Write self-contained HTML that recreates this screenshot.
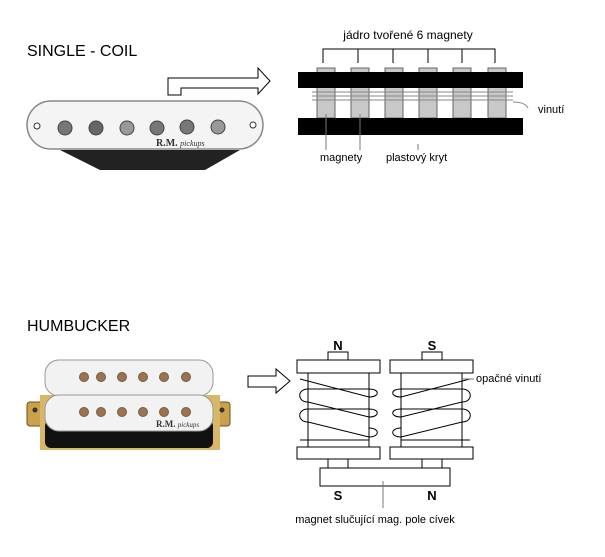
<!DOCTYPE html>
<html><head><style>
body{margin:0;background:#fff;}
svg{display:block;font-family:"Liberation Sans",Arial,sans-serif;}
</style></head><body>
<svg width="605" height="557" viewBox="0 0 605 557" xmlns="http://www.w3.org/2000/svg">
<rect width="605" height="557" fill="#fff"/>
<text x="27" y="56" font-size="16" fill="#000">SINGLE - COIL</text>
<text x="27" y="331" font-size="16" fill="#000">HUMBUCKER</text>

<!-- single coil pickup photo -->
<path d="M60,150 L240,150 L205,170 L100,170 Z" fill="#222"/>
<rect x="27" y="101" width="236" height="48" rx="24" fill="#f4f4f4" stroke="#888" stroke-width="1.5"/>
<circle cx="37" cy="126" r="3" fill="#fff" stroke="#333"/>
<circle cx="253" cy="125" r="3" fill="#fff" stroke="#333"/>
<g stroke="#444" stroke-width="1">
<circle cx="65" cy="128" r="7" fill="#777"/>
<circle cx="96" cy="128" r="7" fill="#666"/>
<circle cx="127" cy="128" r="7" fill="#999"/>
<circle cx="157" cy="128" r="7" fill="#777"/>
<circle cx="187" cy="127" r="7" fill="#777"/>
<circle cx="218" cy="127" r="7" fill="#999"/>
</g>
<text x="156" y="146" font-family="Liberation Serif,serif" font-size="10" font-weight="bold" fill="#333">R.M. <tspan font-style="italic" font-weight="normal" font-size="8">pickups</tspan></text>

<!-- single arrow -->
<path d="M168,95 L168,78 L258,78 L258,68 L270,81 L258,94 L258,88 L181,88 L181,95 Z" fill="#fff" stroke="#000" stroke-width="1"/>

<!-- single diagram -->
<text x="408" y="39" font-size="12" text-anchor="middle">jádro tvořené 6 magnety</text>
<path d="M323,63 L323,49 L495,49 L495,63 M358,49 L358,63 M393,49 L393,63 M428,49 L428,63 M462,49 L462,63" fill="none" stroke="#000"/>
<g fill="#c8c8c8" stroke="#666">
<rect x="317" y="68" width="18" height="50"/>
<rect x="351" y="68" width="18" height="50"/>
<rect x="385" y="68" width="18" height="50"/>
<rect x="419" y="68" width="18" height="50"/>
<rect x="453" y="68" width="18" height="50"/>
<rect x="488" y="68" width="18" height="50"/>
</g>
<rect x="298" y="72" width="225" height="16" fill="#000"/>
<rect x="298" y="118" width="225" height="17" fill="#000"/>
<g stroke="#888"><line x1="312" y1="92" x2="513" y2="92"/><line x1="312" y1="96" x2="513" y2="96"/><line x1="312" y1="100" x2="513" y2="100"/></g>
<path d="M513,102 Q525,102 528,108" fill="none" stroke="#888"/>
<text x="538" y="113" font-size="11">vinutí</text>
<g stroke="#777"><line x1="326" y1="114" x2="326" y2="150"/><line x1="360" y1="114" x2="360" y2="150"/><line x1="418" y1="144" x2="418" y2="150"/></g>
<text x="320" y="161" font-size="11">magnety</text>
<text x="386" y="161" font-size="11">plastový kryt</text>

<!-- humbucker photo -->
<rect x="27" y="402" width="203" height="24" rx="3" fill="#c9a24a" stroke="#6a5020"/>
<rect x="40" y="395" width="180" height="55" fill="#d8b868"/>
<rect x="45" y="420" width="168" height="28" rx="6" fill="#111"/>
<rect x="45" y="360" width="168" height="36" rx="14" fill="#f2f2f2" stroke="#999"/>
<rect x="45" y="395" width="168" height="36" rx="14" fill="#f2f2f2" stroke="#999"/>
<circle cx="35" cy="410" r="2.5" fill="#333"/><circle cx="222" cy="410" r="2.5" fill="#333"/>
<g fill="#a07050" stroke="#664">
<circle cx="84" cy="377" r="4.5"/><circle cx="101" cy="377" r="4.5"/><circle cx="122" cy="377" r="4.5"/><circle cx="143" cy="377" r="4.5"/><circle cx="164" cy="377" r="4.5"/><circle cx="186" cy="377" r="4.5"/>
<circle cx="84" cy="412" r="4.5"/><circle cx="101" cy="412" r="4.5"/><circle cx="122" cy="412" r="4.5"/><circle cx="143" cy="412" r="4.5"/><circle cx="164" cy="412" r="4.5"/><circle cx="186" cy="412" r="4.5"/>
</g>
<text x="156" y="427" font-family="Liberation Serif,serif" font-size="9" font-weight="bold" fill="#333">R.M. <tspan font-style="italic" font-weight="normal" font-size="7">pickups</tspan></text>

<!-- humbucker arrow -->
<path d="M248,376 L276,376 L276,369 L290,381 L276,393 L276,387 L248,387 Z" fill="#fff" stroke="#000"/>

<!-- humbucker diagram -->
<g fill="#fff" stroke="#000" stroke-width="1">
<rect x="328" y="352" width="20" height="8"/>
<rect x="422" y="352" width="20" height="8"/>
<rect x="297" y="360" width="83" height="13"/>
<rect x="390" y="360" width="83" height="13"/>
<rect x="297" y="447" width="83" height="12"/>
<rect x="390" y="447" width="83" height="12"/>
<rect x="328" y="459" width="20" height="9"/>
<rect x="422" y="459" width="20" height="9"/>
<rect x="320" y="468" width="130" height="18"/>
</g>
<g stroke="#000" fill="none">
<line x1="308" y1="373" x2="308" y2="447"/><line x1="369" y1="373" x2="369" y2="447"/>
<line x1="401" y1="373" x2="401" y2="447"/><line x1="462" y1="373" x2="462" y2="447"/>
<!-- left coil -->
<path d="M300,379 L369,397 C380,397 380,389 369,389"/>
<path d="M369,389 L308,389 C297,389 297,402 308,402 L369,417 C380,417 380,409 369,409 L308,409 C297,409 297,422 308,422 L369,437 C380,437 380,428 369,428 M300,440 L369,440"/>
<!-- right coil -->
<path d="M470,379 L401,397 C390,397 390,389 401,389 L462,389 C473,389 473,402 462,402 L401,417 C390,417 390,409 401,409 L462,409 C473,409 473,422 462,422 L401,437 C390,437 390,428 401,428 M470,440 L401,440"/>
</g>
<text x="338" y="350" font-size="13" font-weight="bold" text-anchor="middle">N</text>
<text x="432" y="350" font-size="13" font-weight="bold" text-anchor="middle">S</text>
<text x="338" y="500" font-size="13" font-weight="bold" text-anchor="middle">S</text>
<text x="432" y="500" font-size="13" font-weight="bold" text-anchor="middle">N</text>
<line x1="462" y1="379" x2="474" y2="379" stroke="#777"/>
<text x="476" y="382" font-size="11">opačné vinutí</text>
<line x1="383" y1="481" x2="383" y2="508" stroke="#777"/>
<text x="375" y="523" font-size="11" text-anchor="middle">magnet slučující mag. pole cívek</text>
</svg>
</body></html>
